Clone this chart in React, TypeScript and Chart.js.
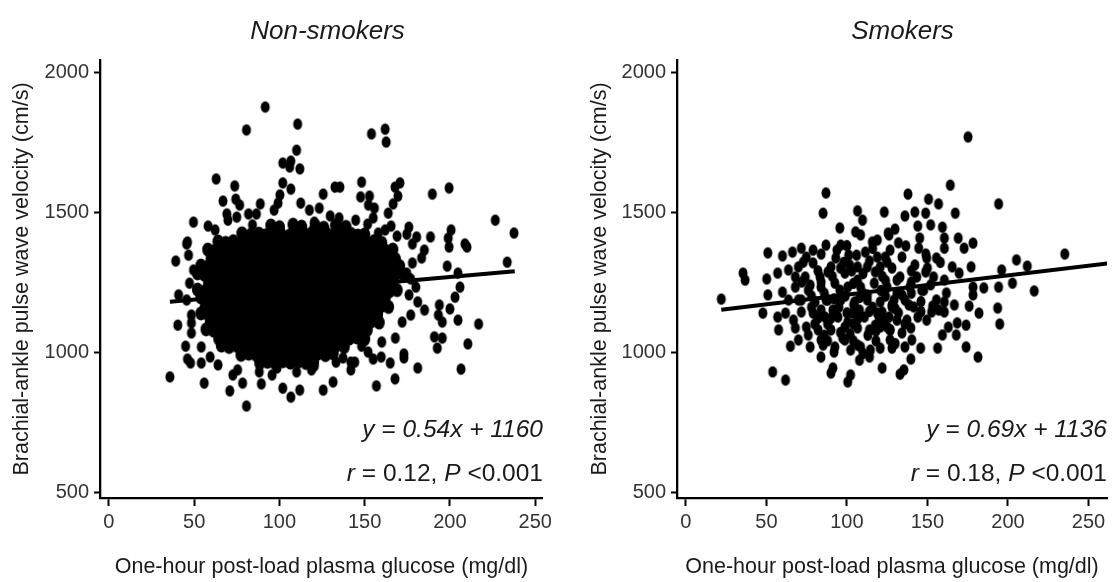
import { useEffect, useRef } from "react";
import { Chart, registerables } from "chart.js";

Chart.register(...registerables);

// ---------- data ----------
const panelTitles = ["Non-smokers", "Smokers"];
const xTitle = "One-hour post-load plasma glucose (mg/dl)";
const yTitle = "Brachial-ankle pulse wave velocity (cm/s)";
const xTicks = [0, 50, 100, 150, 200, 250];
const yTicks = [500, 1000, 1500, 2000];
const slopes = [0.54, 0.69];
const intercepts = [1160, 1136];
const rValues = ["0.12", "0.18"];
const pText = "<0.001";

// Non-smokers: scattered points around the cloud
const nonSmokersOuter: number[][] = [
  [91.7,1875],[80.7,1793],[110.7,1814],[110.1,1721],[102,1675],[106.7,1682],[106,1661],[112,1654],[102,1604],[106.7,1582],
  [62.9,1618],[73.8,1593],[66.9,1539],[74.4,1546],[76.7,1525],[69.2,1493],[81.9,1493],[88.8,1529],[86.5,1493],[100.3,1561],
  [99.2,1532],[96.9,1507],[112.5,1532],[125.7,1564],[132.6,1589],[135.5,1589],[117.6,1507],[123.4,1514],[46.1,1393],[75,1482],
  [129.8,1486],[62.3,1436],
  [154,1779],[162,1796],[162.6,1750],[148.2,1607],[147.6,1554],[152.8,1557],[170.7,1604],[167.8,1589],[169.5,1557],[166.7,1529],
  [163.8,1496],[165.5,1450],[155.7,1514],[152.2,1525],[189.7,1564],[199.5,1586],[226.6,1471],[237.6,1425],[175.9,1446],[174.7,1421],
  [180.5,1411],[188.6,1411],[200.7,1436],[199,1407],[208.8,1386],[135,1479],[144.7,1471],
  [233.6,1321],[198.4,1307],[204.7,1282],[205.9,1232],[203,1196],[200,1154],[204.7,1114],[216.8,1100],[193.8,1168],[193.2,1132],
  [195.5,1107],[190.9,1054],[195.5,1050],[192.6,1014],[210.5,1029],[206.5,939],[181.1,943],[173,993],[173,979],[167.8,904],
  [156.9,879],[165,961],[159.7,982],[155,975],[148.2,1021],[144.2,964],[141.9,964],[137.3,979],[131.5,893],[181.1,1179],
  [185.1,1150],[177,1132],[199.5,1375],[210,1375],[174.7,1282],[180,1232],[183.4,1336],[185,1364],
  [35.8,911],[45.6,1386],[39.2,1325],[47.3,1246],[40.9,1204],[40.4,1096],[45,1021],[46.1,975],[47.9,961],[55.9,889],
  [70.9,861],[72.7,918],[78.4,889],[80.7,807],[89.4,886],[102,871],[106.7,839],[111.9,864],[125.7,864],[118.8,936],
  [95.7,918],[54.2,961],[48.4,1104],[48.4,1068],[54.2,1018],[59.4,982],
  [64,954],[75.5,936],[88.2,929],[98.6,943],[110.1,929],[120.5,950],[133.2,964],[141.9,936],
  [49.6,1464],[58.2,1450],[69.8,1471],[84.2,1454],[120.5,1464],[136.1,1443],[151.7,1457],[162,1436],[169,1414],
  [46.7,1346],[49.6,1293],[45.6,1186],[48.4,1132],
  [178,1318],[177,1261],[176,1204],[172,1107],[168,1050],[160,1036],[152,1000],[178,1386],[158,1425],[155,1479],
];

// Non-smokers: the saturated centre of the cloud
const nonSmokersCore: number[][] = [
  [95,1452],[100,1446],[108,1455],[113,1448],[121,1451],[126,1444],[133,1453],[139,1447],
  [78,1424],[83,1418],[88,1423],[92,1417],[97,1425],[101,1420],[106,1416],[110,1422],[115,1419],[119,1425],[124,1417],[128,1421],[133,1424],[137,1418],[142,1422],[146,1416],[150,1420],
  [64,1395],[68.5,1390],[73,1396],[78,1391],[82.5,1394],[87,1389],[91.5,1396],[96,1392],[100.5,1388],[105,1395],[110,1391],[114.5,1396],[119,1390],[123.5,1394],[128,1389],[132.5,1395],[137,1392],[142,1388],[146.5,1394],[151,1391],[155.5,1396],[160,1390],
  [58,1366],[62,1361],[66.5,1365],[71,1360],[75.5,1367],[80,1362],[84.5,1366],[89,1361],[93.5,1365],[98,1368],[102.5,1362],[107,1366],[112,1360],[116.5,1365],[121,1363],[125.5,1368],[130,1361],[134.5,1365],[139,1362],[144,1367],[148.5,1360],[153,1364],[157.5,1368],[162,1362],[166.5,1366],
  [60,1333],[64.5,1337],[69,1332],[73.5,1339],[78,1334],[82.5,1336],[87,1331],[91.5,1338],[96,1335],[100.5,1332],[105,1337],[109.5,1334],[114,1339],[118.5,1333],[123,1336],[127.5,1331],[132,1338],[136.5,1334],[141,1337],[145.5,1332],[150,1336],[154.5,1339],[159,1333],[163.5,1337],[168,1332],
  [54,1309],[58,1304],[62.5,1308],[67,1303],[71.5,1310],[76,1305],[80.5,1309],[85,1304],[89.5,1307],[94,1311],[98.5,1305],[103,1308],[107.5,1303],[112,1309],[116.5,1306],[121,1310],[125.5,1304],[130,1308],[134.5,1305],[139,1309],[143.5,1303],[148,1307],[152.5,1310],[157,1305],[161.5,1308],[166,1303],[170.5,1307],
  [52,1281],[56,1276],[60.5,1280],[65,1275],[69.5,1282],[74,1277],[78.5,1281],[83,1276],[87.5,1279],[92,1283],[96.5,1277],[101,1280],[105.5,1275],[110,1281],[114.5,1278],[119,1282],[123.5,1276],[128,1280],[132.5,1277],[137,1281],[141.5,1275],[146,1279],[150.5,1282],[155,1277],[159.5,1280],[164,1275],[168.5,1279],[173,1277],
  [58.5,1247],[63,1251],[67.5,1246],[72,1253],[76.5,1248],[81,1252],[85.5,1247],[90,1250],[94.5,1254],[99,1248],[103.5,1251],[108,1246],[112.5,1252],[117,1249],[121.5,1253],[126,1247],[130.5,1251],[135,1248],[139.5,1252],[144,1246],[148.5,1250],[153,1253],[157.5,1248],[162,1251],[166.5,1246],
  [52,1223],[56.5,1218],[61,1222],[65.5,1217],[70,1224],[74.5,1219],[79,1223],[83.5,1218],[88,1221],[92.5,1225],[97,1219],[101.5,1222],[106,1217],[110.5,1223],[115,1220],[119.5,1224],[124,1218],[128.5,1222],[133,1219],[137.5,1223],[142,1217],[146.5,1221],[151,1224],[155.5,1219],[160,1222],[164.5,1217],[169,1221],
  [54,1195],[58.5,1190],[63,1194],[67.5,1189],[72,1196],[76.5,1191],[81,1195],[85.5,1190],[90,1193],[94.5,1197],[99,1191],[103.5,1194],[108,1189],[112.5,1195],[117,1192],[121.5,1196],[126,1190],[130.5,1194],[135,1191],[139.5,1195],[144,1189],[148.5,1193],[153,1196],[157.5,1191],[162,1194],
  [56.5,1161],[61,1165],[65.5,1160],[70,1167],[74.5,1162],[79,1166],[83.5,1161],[88,1164],[92.5,1168],[97,1162],[101.5,1165],[106,1160],[110.5,1166],[115,1163],[119.5,1167],[124,1161],[128.5,1165],[133,1162],[137.5,1166],[142,1160],[146.5,1164],[151,1167],[155.5,1162],[160,1165],[164,1161],
  [54,1138],[58.5,1133],[63,1137],[67.5,1132],[72,1139],[76.5,1134],[81,1138],[85.5,1133],[90,1136],[94.5,1140],[99,1134],[103.5,1137],[108,1132],[112.5,1138],[117,1135],[121.5,1139],[126,1133],[130.5,1137],[135,1134],[139.5,1138],[144,1132],[148.5,1136],[153,1139],[157.5,1134],
  [59.5,1104],[64,1108],[68.5,1103],[73,1110],[77.5,1105],[82,1109],[86.5,1104],[91,1107],[95.5,1111],[100,1105],[104.5,1108],[109,1103],[113.5,1109],[118,1106],[122.5,1110],[127,1104],[131.5,1108],[136,1105],[140.5,1109],[145,1103],[149.5,1107],[154,1110],[158.5,1105],
  [57,1081],[61.5,1076],[66,1080],[70.5,1075],[75,1082],[79.5,1077],[84,1081],[88.5,1076],[93,1079],[97.5,1083],[102,1077],[106.5,1080],[111,1075],[115.5,1081],[120,1078],[124.5,1082],[129,1076],[133.5,1080],[138,1077],[142.5,1081],[147,1075],[151.5,1079],
  [64.5,1047],[69,1051],[73.5,1046],[78,1053],[82.5,1048],[87,1052],[91.5,1047],[96,1050],[100.5,1054],[105,1048],[109.5,1051],[114,1046],[118.5,1052],[123,1049],[127.5,1053],[132,1047],[136.5,1051],[141,1048],[145.5,1052],[150,1046],
  [66,1023],[70.5,1018],[75,1022],[79.5,1017],[84,1024],[88.5,1019],[93,1023],[97.5,1018],[102,1021],[106.5,1025],[111,1019],[115.5,1022],[120,1017],[124.5,1023],[129,1020],[133.5,1024],[138,1018],
  [77.5,990],[82,994],[86.5,989],[91,996],[95.5,991],[100,995],[104.5,990],[109,993],[113.5,997],[118,991],[122.5,994],[127,989],[131.5,995],
  [88.5,961],[93,965],[97.5,960],[102,967],[106.5,962],[111,966],[115.5,961],[120,964],
];

// Smokers
const smokers: number[][] = [
  [22,1189],[35.5,1282],[36.8,1257],[50.9,1354],[50.2,1261],[50.9,1204],[57,1282],[60,1343],[66.2,1357],[47.8,1139],
  [60,1214],[57,1125],[57.6,1079],[53.9,929],[61.9,900],[64.9,1021],[71.7,1371],[74.8,1339],[87,1568],[85.2,1496],
  [95.6,1443],[106.6,1504],[109.7,1471],[123.2,1500],[108.5,1418],[115.8,1393],[87,1382],[96.2,1382],[93.8,1364],[101.1,1346],
  [106,1346],[118.9,1339],[126.2,1418],[126.8,1364],[79,1318],[69.9,1304],[90.1,1304],[68,1268],[74.1,1268],[83.3,1268],
  [98.7,1282],[106.6,1304],[112.7,1304],[120.7,1304],[68,1232],[76,1221],[83.9,1232],[92.5,1246],[100.5,1232],[108.5,1232],
  [117,1246],[125,1232],[63.7,1186],[71.7,1186],[80.3,1179],[88.2,1186],[96.2,1186],[104.8,1179],[112.7,1186],[120.7,1179],
  [129.3,1186],[61.9,1139],[71.7,1143],[79,1139],[86.4,1125],[94.4,1125],[103.6,1139],[110.9,1125],[118.9,1139],[126.2,1125],
  [68,1086],[74.8,1089],[82.1,1079],[90.1,1079],[98.7,1089],[106.6,1086],[114,1079],[120.7,1089],[69.9,1043],[77.2,1018],
  [83.9,1043],[92.5,1018],[98.7,1043],[102.3,1007],[108.5,1018],[114.6,1007],[120.7,1014],[126.8,1043],[83.9,982],[91.3,943],
  [90.1,925],[102.3,918],[100.5,893],[107.8,971],[121.9,943],[114,982],
  [175.2,1768],[164.2,1596],[137.9,1564],[150.7,1546],[156.9,1529],[136,1486],[142.2,1500],[148.9,1496],[167.3,1496],
  [194.2,1529],[152,1454],[159.3,1446],[144,1450],[129.9,1439],[125.6,1425],[169.1,1407],[178.3,1389],[172.8,1371],[160.5,1407],
  [160.5,1371],[145.2,1407],[144.6,1371],[136.6,1379],[235.3,1350],[205.3,1329],[212,1307],[196.1,1293],[177.1,1304],[165.4,1304],
  [169.7,1282],[155.6,1336],[149.5,1336],[148.9,1286],[134.2,1339],[202.8,1246],[216.3,1218],[194.2,1232],[185,1229],
  [178.3,1232],[178.3,1204],[161.8,1211],[160.5,1179],[166.7,1168],[175.9,1164],[153.2,1164],[152.6,1143],[182,1139],[160.5,1143],
  [193.6,1157],[194.9,1100],[163,1089],[168.5,1104],[174,1096],[167.9,1061],[159.3,1061],[144,1125],[139.7,1086],[174,1018],
  [181.4,982],[156.3,1014],[145.8,1014],[136,1018],[128,1014],[139.7,975],[135.4,936],[133,921],
  [139.1,1232],[147.7,1221],[153.8,1268],[143.4,1268],[133,1268],[123.8,1339],[131.1,1211],[136,1186],[141.5,1161],[128,1161],
  [131.1,1114],[137.3,1114],[125,1089],[121.9,1143],[134.2,1068],[126.8,1079],
  [79,1364],[93.1,1336],[101.7,1311],[111.5,1357],[117.6,1286],[125,1321],[131.1,1257],[134.2,1204],[128,1168],[112.7,1204],
  [104.2,1168],[95.6,1221],[87,1186],[77.2,1239],[69.9,1186],[82.1,1121],[91.3,1150],[100.5,1107],[107.8,1150],[117.6,1096],
  [126.8,1079],[97.4,1050],[106.6,1025],[85.2,1025],[76,1061],[66.8,1114],[63.7,1293],[72.9,1321],[88.2,1286],[106.6,1257],
  [118.9,1400],[105.4,1429],[142.2,1311],[146.4,1221],[138.5,1168],[149.5,1114],[155.6,1186],[140.3,1043],[160.5,1257],
  [84,1350],[98,1320],[114,1325],[122,1270],[91,1270],[103,1290],[86,1210],[110,1210],[121,1220],[99,1200],
  [78,1160],[95,1160],[116,1160],[132,1140],[88,1100],[107,1120],[123,1110],[96,1070],[113,1060],[130,1030],
  [80,1100],[72,1250],[140,1290],[152,1240],[146,1180],[157,1150],[118,1040],[92,1000],[110,995],[149,1350],
  [82,1290],[96,1300],[110,1280],[128,1300],[84,1250],[104,1245],[124,1255],[140,1250],[78,1200],[92,1190],
  [108,1195],[124,1200],[140,1210],[84,1150],[100,1140],[114,1145],[130,1155],[146,1145],[90,1120],[104,1100],
  [120,1125],[136,1100],[86,1060],[102,1065],[118,1075],[88,1040],[104,1040],[150,1300],[158,1320],[116,1370],
  [100,1380],[132,1390],
];

// ---------- layout ----------
const W = 1113;
const H = 582;
const FAMILY = '"Liberation Sans", Arial, Helvetica, sans-serif';

type Panel = {
  left: number;
  width: number;
  yAxisWidth: number;
  padRight: number;
  xMin: number;
  xMax: number;
  yTitlePad: number;
  titleX: number;
  annotRight: number;
  points: number[][];
  core: number[][];
  lineEnd: number;
  idx: number;
};

const panels: Panel[] = [
  { left: 0, width: 556, yAxisWidth: 100, padRight: 6, xMin: -5.2, xMax: 254.5, yTitlePad: 9, titleX: 327.5, annotRight: 543,
    points: nonSmokersOuter, core: nonSmokersCore, lineEnd: 238, idx: 0 },
  { left: 556, width: 557, yAxisWidth: 121, padRight: 0, xMin: -5.5, xMax: 261.5, yTitlePad: 31, titleX: 346.5, annotRight: 551,
    points: smokers, core: [], lineEnd: 270, idx: 1 },
];

function makeDot(rx: number, ry: number): HTMLCanvasElement {
  const c = document.createElement("canvas");
  c.width = Math.ceil(rx * 2 + 3);
  c.height = Math.ceil(ry * 2 + 3);
  const g = c.getContext("2d") as CanvasRenderingContext2D;
  g.fillStyle = "#000";
  g.beginPath();
  g.ellipse(c.width / 2, c.height / 2, rx, ry, 0, 0, Math.PI * 2);
  g.fill();
  return c;
}

function drawRuns(ctx: CanvasRenderingContext2D, runs: { t: string; i: boolean }[], right: number, y: number, size: number) {
  let total = 0;
  const widths = runs.map((r) => {
    ctx.font = `${r.i ? "italic " : ""}${size}px ${FAMILY}`;
    const w = ctx.measureText(r.t).width;
    total += w;
    return w;
  });
  let x = right - total;
  runs.forEach((r, k) => {
    ctx.font = `${r.i ? "italic " : ""}${size}px ${FAMILY}`;
    ctx.fillText(r.t, x, y);
    x += widths[k];
  });
}

function buildConfig(p: Panel, dot: HTMLCanvasElement, coreDot: HTMLCanvasElement): any {
  const xs = p.points.concat(p.core).map((d) => d[0]);
  const x0 = Math.min(...xs);
  const a = slopes[p.idx];
  const b = intercepts[p.idx];
  const textPlugin = {
    id: "panelText",
    afterDraw(chart: any) {
      const ctx: CanvasRenderingContext2D = chart.ctx;
      ctx.save();
      ctx.fillStyle = "#1a1a1a";
      ctx.textBaseline = "alphabetic";
      ctx.textAlign = "center";
      ctx.font = `italic 26px ${FAMILY}`;
      ctx.fillText(panelTitles[p.idx], p.titleX, 39);
      ctx.textAlign = "left";
      drawRuns(ctx, [{ t: `y = ${a}x + ${b}`, i: true }], p.annotRight, 437, 24.5);
      drawRuns(
        ctx,
        [
          { t: "r", i: true },
          { t: ` = ${rValues[p.idx]}, `, i: false },
          { t: "P", i: true },
          { t: ` ${pText}`, i: false },
        ],
        p.annotRight,
        481,
        24.5
      );
      ctx.restore();
    },
  };
  return {
    type: "scatter",
    data: {
      datasets: [
        {
          type: "line",
          data: [
            { x: x0, y: a * x0 + b },
            { x: p.lineEnd, y: a * p.lineEnd + b },
          ],
          borderColor: "#000",
          borderWidth: 4,
          pointRadius: 0,
          fill: false,
          order: 0,
        },
        {
          type: "scatter",
          data: p.points.map((d) => ({ x: d[0], y: d[1] })),
          pointRadius: 5,
          pointStyle: dot,
          order: 1,
        },
        {
          type: "scatter",
          data: p.core.map((d) => ({ x: d[0], y: d[1] })),
          pointRadius: 6,
          pointStyle: coreDot,
          order: 2,
        },
      ],
    },
    options: {
      responsive: false,
      animation: false,
      devicePixelRatio: 1,
      events: [],
      layout: { padding: { top: 60, right: p.padRight, left: 0, bottom: 0 } },
      plugins: { legend: { display: false }, tooltip: { enabled: false }, title: { display: false } },
      scales: {
        x: {
          type: "linear",
          min: p.xMin,
          max: p.xMax,
          afterBuildTicks: (s: any) => {
            s.ticks = xTicks.map((v) => ({ value: v }));
          },
          afterFit: (s: any) => {
            s.height = H - 498;
          },
          grid: { drawOnChartArea: false, drawTicks: true, tickLength: 8, tickWidth: 2, tickColor: "#000" },
          border: { display: true, color: "#000", width: 2.3 },
          ticks: {
            font: { family: FAMILY, size: 20 },
            color: "#333",
            padding: 4,
            maxRotation: 0,
            autoSkip: false,
            callback: (v: any) => String(v),
          },
          title: {
            display: true,
            text: xTitle,
            font: { family: FAMILY, size: 21.5 },
            color: "#1a1a1a",
            padding: { top: 0, bottom: 2 },
          },
        },
        y: {
          type: "linear",
          min: 478.6,
          max: 2043,
          afterBuildTicks: (s: any) => {
            s.ticks = yTicks.map((v) => ({ value: v }));
          },
          afterFit: (s: any) => {
            s.width = p.yAxisWidth;
          },
          grid: { drawOnChartArea: false, drawTicks: true, tickLength: 6, tickWidth: 2, tickColor: "#000" },
          border: { display: true, color: "#000", width: 2.3 },
          ticks: {
            font: { family: FAMILY, size: 20 },
            color: "#333",
            padding: 5,
            autoSkip: false,
            callback: (v: any) => String(v),
          },
          title: {
            display: true,
            text: yTitle,
            font: { family: FAMILY, size: 21.5 },
            color: "#1a1a1a",
            padding: { top: p.yTitlePad, bottom: 0 },
          },
        },
      },
    },
    plugins: [textPlugin],
  };
}

export default function App() {
  const leftRef = useRef<HTMLCanvasElement>(null);
  const rightRef = useRef<HTMLCanvasElement>(null);
  useEffect(() => {
    const dot = makeDot(4.5, 5.8);
    const coreDot = makeDot(5.6, 7);
    const charts = [
      new Chart(leftRef.current as HTMLCanvasElement, buildConfig(panels[0], dot, coreDot)),
      new Chart(rightRef.current as HTMLCanvasElement, buildConfig(panels[1], dot, coreDot)),
    ];
    return () => charts.forEach((c) => c.destroy());
  }, []);
  return (
    <div style={{ position: "absolute", left: 0, top: 0, width: W, height: H, background: "#fff", overflow: "hidden" }}>
      {panels.map((p, i) => (
        <canvas
          key={i}
          ref={i === 0 ? leftRef : rightRef}
          width={p.width}
          height={H}
          style={{ position: "absolute", left: p.left, top: 0, width: `${p.width}px`, height: `${H}px` }}
        />
      ))}
    </div>
  );
}
